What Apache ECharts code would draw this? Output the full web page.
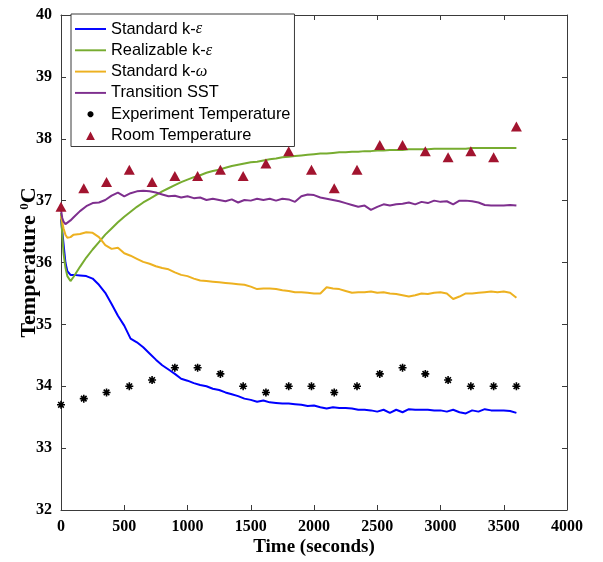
<!DOCTYPE html>
<html>
<head>
<meta charset="utf-8">
<script src="https://cdn.jsdelivr.net/npm/echarts@6/dist/echarts.min.js"></script>
<style>
  html, body { margin: 0; padding: 0; background: #ffffff; }
  #chart { width: 603px; height: 562px; }
</style>
</head>
<body>
<div id="chart"></div>
<script>
// Simulation output times (s)
const simTime = [0,10,20,35,50,75,100,150,200,250,300,350,400,450,500,550,600,650,700,750,800,850,900,950,1000,1050,1100,1150,1200,1250,1300,1350,1400,1450,1500,1550,1600,1650,1700,1750,1800,1850,1900,1950,2000,2050,2100,2150,2200,2250,2300,2350,2400,2450,2500,2550,2600,2650,2700,2750,2800,2850,2900,2950,3000,3050,3100,3150,3200,3250,3300,3350,3400,3450,3500,3550,3600];

// Predicted temperature (°C) per turbulence model
const standardKEps = [36.70,36.50,36.30,36.00,35.86,35.80,35.80,
  35.79,35.78,35.74,35.64,35.51,35.33,35.14,34.98,34.77,34.71,
  34.63,34.53,34.43,34.34,34.27,34.20,34.12,34.09,34.05,34.02,
  34.00,33.96,33.94,33.90,33.87,33.84,33.80,33.78,33.75,33.77,
  33.74,33.73,33.72,33.72,33.71,33.70,33.68,33.69,33.66,33.64,
  33.66,33.65,33.65,33.64,33.62,33.62,33.61,33.59,33.62,33.57,
  33.62,33.58,33.63,33.62,33.62,33.62,33.61,33.61,33.59,33.62,
  33.58,33.56,33.61,33.59,33.63,33.61,33.61,33.61,33.60,33.57];

const realizableKEps = [36.80,36.45,36.15,35.92,35.78,35.70,35.77,
  35.93,36.08,36.21,36.33,36.45,36.55,36.65,36.74,36.82,36.90,
  36.97,37.03,37.09,37.15,37.20,37.25,37.30,37.34,37.38,37.41,
  37.45,37.48,37.50,37.53,37.56,37.58,37.60,37.62,37.63,37.65,
  37.67,37.68,37.70,37.71,37.72,37.73,37.74,37.75,37.76,37.76,
  37.77,37.78,37.78,37.79,37.79,37.80,37.80,37.81,37.81,37.82,
  37.82,37.82,37.83,37.83,37.83,37.83,37.84,37.84,37.84,37.84,
  37.84,37.84,37.85,37.85,37.85,37.85,37.85,37.85,37.85,37.85];

const standardKOmega = [36.75,36.65,36.55,36.45,36.40,36.41,36.45,
  36.46,36.49,36.48,36.41,36.28,36.22,36.24,36.15,36.11,36.06,
  36.01,35.98,35.94,35.91,35.89,35.84,35.80,35.78,35.74,35.71,
  35.70,35.69,35.68,35.67,35.66,35.65,35.64,35.61,35.57,35.58,
  35.58,35.57,35.55,35.54,35.52,35.52,35.51,35.50,35.50,35.60,
  35.58,35.57,35.54,35.51,35.52,35.52,35.53,35.51,35.52,35.50,
  35.49,35.47,35.45,35.47,35.50,35.49,35.51,35.52,35.50,35.41,
  35.45,35.50,35.50,35.51,35.52,35.53,35.52,35.53,35.51,35.43];

const transitionSST = [36.85,36.72,36.66,36.62,36.64,36.68,36.73,
  36.83,36.91,36.96,36.97,37.01,37.08,37.13,37.07,37.12,37.15,
  37.16,37.15,37.13,37.10,37.07,37.08,37.05,37.07,37.04,37.05,
  37.01,37.03,37.01,36.99,37.02,36.97,37.01,37.00,37.03,37.01,
  37.03,37.00,37.03,37.02,36.98,37.07,37.10,37.09,37.05,37.03,
  37.01,36.99,36.96,36.93,36.90,36.92,36.85,36.90,36.94,36.92,
  36.94,36.95,36.97,36.94,36.98,36.96,37.00,36.98,36.99,36.94,
  37.00,37.00,36.99,36.97,36.93,36.92,36.92,36.92,36.93,36.92];

// Measurement times (s) and readings (°C)
const sampleTime = [0,180,360,540,720,900,1080,1260,1440,1620,1800,1980,2160,2340,2520,2700,2880,3060,3240,3420,3600];
const experimentTemp = [33.7,33.8,33.9,34.0,34.1,34.3,34.3,34.2,34.0,33.9,34.0,34.0,33.9,34.0,34.2,34.3,34.2,34.1,34.0,34.0,34.0];
const roomTemp = [36.9,37.2,37.3,37.5,37.3,37.4,37.4,37.5,37.4,37.6,37.8,37.5,37.2,37.5,37.9,37.9,37.8,37.7,37.8,37.7,38.2];

// Axis ranges: [min, max, step]
const timeRange = [0, 4000, 500];
const tempRange = [32, 40, 1];

const seriesNames = ['Standard k-ε', 'Realizable k-ε', 'Standard k-ω', 'Transition SST',
                     'Experiment Temperature', 'Room Temperature'];

const pair = (xs, ys) => xs.map((x, i) => [x, ys[i]]);

const AXIS_COLOR = '#3a3a3a';
const SERIF = '"Liberation Serif", "Times New Roman", serif';
const SANS = '"Liberation Sans", Arial, sans-serif';

// Marker shapes
const asteriskPath = 'path://M0,5 L10,5 M5,0 L5,10 M1.5,1.5 L8.5,8.5 M8.5,1.5 L1.5,8.5';
const asteriskLegendPath = 'path://M0,0 M20,20 M4,10 L16,10 M10,4 L10,16 M5.8,5.8 L14.2,14.2 M14.2,5.8 L5.8,14.2';
const lineLegendPath = 'path://M0,0 L32,0 L32,2 L0,2 Z';
const triangleLegendPath = 'path://M0,0 M10,10 M0.6,9.4 L5,1 L9.4,9.4 Z';

function valueAxis(range, extra) {
  return Object.assign({
    type: 'value',
    min: range[0], max: range[1], interval: range[2],
    splitLine: { show: false },
    axisLine: { show: true, onZero: false, lineStyle: { color: AXIS_COLOR, width: 1 } },
    axisTick: { show: true, inside: true, length: 5, lineStyle: { color: AXIS_COLOR } },
    axisLabel: { show: false }
  }, extra);
}

const tickLabel = {
  show: true, margin: 9, color: '#000',
  fontFamily: SERIF, fontWeight: 'bold', fontSize: 16,
  formatter: v => String(v)
};

const lineSeries = (name, values, color) => ({
  name, type: 'line',
  data: pair(simTime, values),
  showSymbol: false, symbol: 'none',
  lineStyle: { color, width: 2 },
  itemStyle: { color },
  animation: false
});

const chart = echarts.init(document.getElementById('chart'), null, { renderer: 'canvas' });

chart.setOption({
  backgroundColor: '#ffffff',
  animation: false,
  grid: { left: 61, right: 36, top: 15, bottom: 52, containLabel: false },
  xAxis: [
    valueAxis(timeRange, {
      position: 'bottom',
      axisLabel: tickLabel,
      name: 'Time (seconds)', nameLocation: 'middle', nameGap: 28, nameMoveOverlap: false,
      nameTextStyle: { color: '#000', fontFamily: SERIF, fontWeight: 'bold', fontSize: 19 }
    }),
    valueAxis(timeRange, { position: 'top' })
  ],
  yAxis: [
    valueAxis(tempRange, {
      position: 'left',
      axisLabel: tickLabel,
      name: 'Temperature {sup|0}C', nameLocation: 'middle', nameGap: 21, nameRotate: 90,
      nameMoveOverlap: false,
      nameTextStyle: {
        color: '#000', fontFamily: SERIF, fontWeight: 'bold', fontSize: 22, lineHeight: 22,
        rich: { sup: { fontFamily: SERIF, fontWeight: 'bold', fontSize: 13, lineHeight: 22, verticalAlign: 'top', color: '#000' } }
      }
    }),
    valueAxis(tempRange, { position: 'right' })
  ],
  legend: {
    orient: 'vertical',
    left: 71, top: 14,
    padding: [7, 4, 3, 4],
    itemWidth: 31, itemHeight: 10, itemGap: 5.3,
    backgroundColor: '#ffffff',
    borderColor: '#3a3a3a', borderWidth: 1, borderRadius: 0,
    symbolKeepAspect: true,
    textStyle: {
      color: '#000', fontFamily: SANS, fontSize: 16.4, lineHeight: 16,
      rich: { g: { fontFamily: SERIF, fontStyle: 'italic', fontSize: 16.4, color: '#000' } }
    },
    formatter: n => n.replace('ε', '{g|ε}').replace('ω', '{g|ω}'),
    data: [
      { name: seriesNames[0], icon: lineLegendPath },
      { name: seriesNames[1], icon: lineLegendPath },
      { name: seriesNames[2], icon: lineLegendPath },
      { name: seriesNames[3], icon: lineLegendPath },
      { name: seriesNames[4], icon: asteriskLegendPath },
      { name: seriesNames[5], icon: triangleLegendPath }
    ]
  },
  series: [
    lineSeries(seriesNames[0], standardKEps, '#0000ff'),
    lineSeries(seriesNames[1], realizableKEps, '#77ac30'),
    lineSeries(seriesNames[2], standardKOmega, '#edb120'),
    lineSeries(seriesNames[3], transitionSST, '#7e2f8e'),
    {
      name: seriesNames[4], type: 'scatter',
      data: pair(sampleTime, experimentTemp),
      symbol: asteriskPath, symbolSize: 8,
      itemStyle: { color: '#000', borderColor: '#000', borderWidth: 1.6, opacity: 1 },
      z: 3, animation: false
    },
    {
      name: seriesNames[5], type: 'scatter',
      data: pair(sampleTime, roomTemp),
      symbol: 'triangle', symbolSize: [11, 10],
      itemStyle: { color: '#a2142f', opacity: 1 },
      z: 4, animation: false
    }
  ]
});
</script>
</body>
</html>
